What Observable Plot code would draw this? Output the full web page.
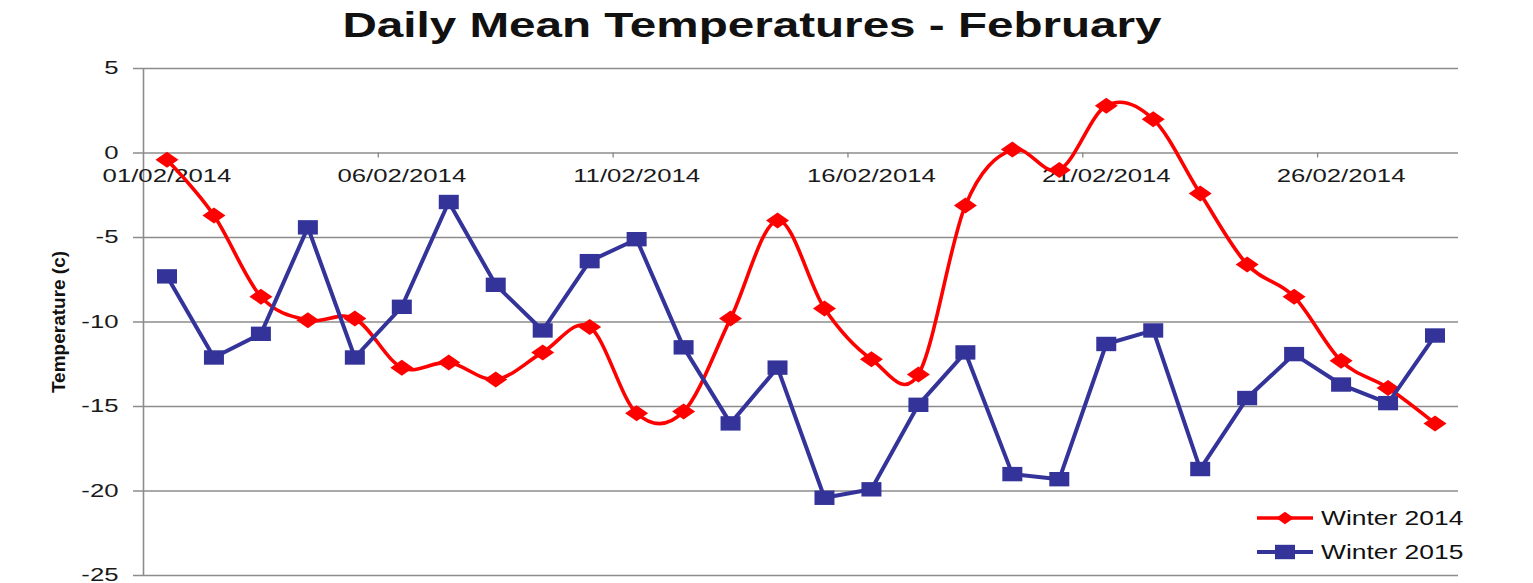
<!DOCTYPE html>
<html>
<head>
<meta charset="utf-8">
<script src="https://cdn.jsdelivr.net/npm/d3@7"></script>
<script src="https://cdn.jsdelivr.net/npm/@observablehq/plot@0.6"></script>
<style>
  body { margin: 0; background: #fff; font-family: "Liberation Sans", Arial, sans-serif; }
  #wrap { position: relative; width: 1533px; height: 583px; overflow: hidden; }
  #title { position: relative; height: 50px; }
  #title span { position: absolute; left: 752px; top: 5px; font-size: 35px; line-height: 40px; font-weight: bold; white-space: nowrap; color: #111;
    transform: translateX(-50%) scaleX(1.36); transform-origin: center; }
  .leg { position: absolute; left: 1257px; height: 24px; display: flex; align-items: center; }
  .leg svg { display: block; }
  .leg span { font-size: 20px; line-height: 24px; color: #111; margin-left: 8px; white-space: nowrap; display: inline-block; transform: scaleX(1.32); transform-origin: left center; }
</style>
</head>
<body>
<div id="wrap">
  <div id="title"><span>Daily Mean Temperatures - February</span></div>
  <div id="chart"></div>
  <div id="legend"></div>
</div>
<script>
// ---- data ----
const dates = [
  "01/02/2014","02/02/2014","03/02/2014","04/02/2014","05/02/2014","06/02/2014","07/02/2014",
  "08/02/2014","09/02/2014","10/02/2014","11/02/2014","12/02/2014","13/02/2014","14/02/2014",
  "15/02/2014","16/02/2014","17/02/2014","18/02/2014","19/02/2014","20/02/2014","21/02/2014",
  "22/02/2014","23/02/2014","24/02/2014","25/02/2014","26/02/2014","27/02/2014","28/02/2014"
];
const winter2014 = [-0.4, -3.7, -8.5, -9.9, -9.8, -12.7, -12.4, -13.4, -11.8, -10.3, -15.4, -15.3, -9.8, -4.0,
                    -9.2, -12.2, -13.1, -3.1, 0.2, -1.0, 2.8, 2.0, -2.4, -6.6, -8.5, -12.3, -13.9, -16.0];
const winter2015 = [-7.3, -12.1, -10.7, -4.4, -12.1, -9.1, -2.9, -7.8, -10.5, -6.4, -5.1, -11.5, -16.0, -12.7,
                    -20.4, -19.9, -14.9, -11.8, -19.0, -19.3, -11.3, -10.5, -18.7, -14.5, -11.9, -13.7, -14.8, -10.8];
const seriesNames = ["Winter 2014", "Winter 2015"];
const seriesColors = ["#FF0000", "#333399"];
const yTicks = [5, 0, -5, -10, -15, -20, -25];
const xLabelEvery = 5;
const yTitle = "Temperature (c)";

// ---- build table ----
const rows = dates.map((d, i) => ({day: i + 1, date: d, t2014: winter2014[i], t2015: winter2015[i]}));
const labelRows = rows.filter((r, i) => i % xLabelEvery === 0);
const tickBounds = labelRows.slice(1).map(r => r.day - 0.5);
const xDomain = [0.5, dates.length + 0.5];

// custom marker shapes (wide diamond, wide square)
const wideDiamond = {draw(ctx, size) { const r = Math.sqrt(size / Math.PI); const w = r * 1.15, h = r * 0.8;
  ctx.moveTo(0, -h); ctx.lineTo(w, 0); ctx.lineTo(0, h); ctx.lineTo(-w, 0); ctx.closePath(); }};
const wideSquare = {draw(ctx, size) { const r = Math.sqrt(size / Math.PI); const w = r, h = r * 0.72;
  ctx.moveTo(-w, -h); ctx.lineTo(w, -h); ctx.lineTo(w, h); ctx.lineTo(-w, h); ctx.closePath(); }};

const gray = "#8c8c8c";
const plot = Plot.plot({
  width: 1533, height: 533,
  marginTop: 18, marginBottom: 8, marginLeft: 143, marginRight: 75,
  style: {overflow: "visible", fontFamily: "'Liberation Sans', Arial, sans-serif", background: "transparent"},
  x: {domain: xDomain, axis: null},
  y: {domain: [-25, 5], axis: null},
  marks: [
    Plot.ruleY(yTicks, {stroke: gray, strokeWidth: 1.4, insetLeft: -10}),
    Plot.ruleX([xDomain[0]], {stroke: gray, strokeWidth: 1.6}),
    Plot.ruleX(tickBounds, {y1: 0, y2: 0, insetBottom: -5, stroke: gray, strokeWidth: 1.4}),
    Plot.axisY({ticks: yTicks, tickSize: 0, tickPadding: 25, tickFormat: d => String(d), fontSize: 18, fill: "#1a1a1a", label: null}),
    Plot.text(labelRows, {x: "day", y: 0, text: "date", dy: 23, fontSize: 18, fill: "#1a1a1a"}),
    Plot.text([yTitle], {frameAnchor: "left", textAnchor: "middle", rotate: -90, dx: -85, fontSize: 19, fontWeight: "bold", fill: "#111"}),
    Plot.line(rows, {x: "day", y: "t2014", stroke: seriesColors[0], strokeWidth: 3.6, curve: "cardinal"}),
    Plot.dot(rows, {x: "day", y: "t2014", symbol: wideDiamond, r: 10, fill: seriesColors[0], stroke: "none"}),
    Plot.line(rows, {x: "day", y: "t2015", stroke: seriesColors[1], strokeWidth: 4}),
    Plot.dot(rows, {x: "day", y: "t2015", symbol: wideSquare, r: 10, fill: seriesColors[1], stroke: "none"})
  ]
});
document.getElementById("chart").appendChild(plot);

// stretch horizontal text to match the reference's wide glyphs
plot.querySelectorAll("text").forEach(t => {
  const tr = t.getAttribute("transform") || "";
  const ptr = (t.parentNode && t.parentNode.getAttribute && t.parentNode.getAttribute("transform")) || "";
  if (tr.includes("rotate") || ptr.includes("rotate")) return;
  const w = t.getComputedTextLength();
  if (w > 0) { t.setAttribute("textLength", (w * 1.43).toFixed(1)); t.setAttribute("lengthAdjust", "spacingAndGlyphs"); }
});

// legend
const legend = document.getElementById("legend");
const legTops = [506, 540];
const legSyms = [wideDiamond, wideSquare];
seriesNames.forEach((name, i) => {
  const div = document.createElement("div");
  div.className = "leg";
  div.style.top = legTops[i] + "px";
  const s = d3.create("svg").attr("width", 56).attr("height", 24);
  s.append("line").attr("x1", 0).attr("x2", 56).attr("y1", 12).attr("y2", 12)
    .attr("stroke", seriesColors[i]).attr("stroke-width", i ? 4 : 3.6);
  s.append("path").attr("transform", "translate(28,12)")
    .attr("d", d3.symbol(legSyms[i], (i ? 100 : 60) * Math.PI)()).attr("fill", seriesColors[i]);
  div.appendChild(s.node());
  const sp = document.createElement("span");
  sp.textContent = name;
  div.appendChild(sp);
  legend.appendChild(div);
});
</script>
</body>
</html>
